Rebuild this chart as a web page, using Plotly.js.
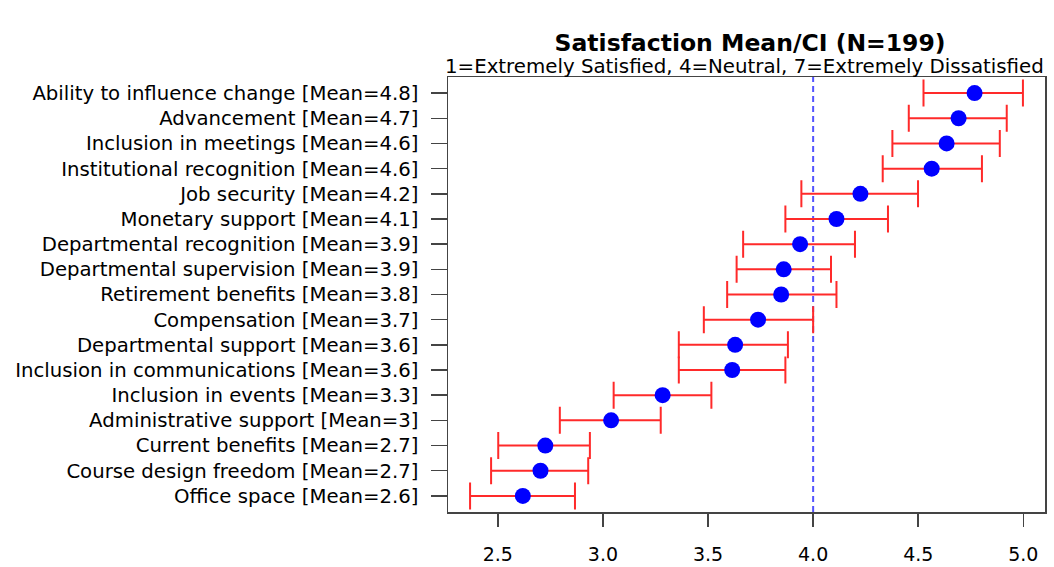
<!DOCTYPE html>
<html>
<head>
<meta charset="utf-8">
<script src="https://cdn.plot.ly/plotly-3.0.1.min.js"></script>
<style>html,body{margin:0;padding:0;background:#fff;}</style>
</head>
<body>
<div id="chart" style="width:1054px;height:567px;"></div>
<script>
// Items, top to bottom
const items = [
  "Ability to influence change", "Advancement", "Inclusion in meetings",
  "Institutional recognition", "Job security", "Monetary support",
  "Departmental recognition", "Departmental supervision", "Retirement benefits",
  "Compensation", "Departmental support", "Inclusion in communications",
  "Inclusion in events", "Administrative support", "Current benefits",
  "Course design freedom", "Office space"
];
const meanLabels = ["4.8","4.7","4.6","4.6","4.2","4.1","3.9","3.9","3.8","3.7","3.6","3.6","3.3","3","2.7","2.7","2.6"];
const means = [4.768, 4.692, 4.635, 4.564, 4.225, 4.111, 3.938, 3.860, 3.848, 3.738, 3.629, 3.615, 3.284, 3.039, 2.726, 2.703, 2.619];
const lowerCI = [4.525, 4.455, 4.377, 4.331, 3.944, 3.868, 3.667, 3.636, 3.591, 3.480, 3.361, 3.361, 3.051, 2.795, 2.502, 2.468, 2.368];
const upperCI = [4.998, 4.921, 4.888, 4.803, 4.499, 4.356, 4.199, 4.085, 4.111, 4.000, 3.880, 3.868, 3.516, 3.275, 2.938, 2.930, 2.867];
const xTicks = [2.5, 3.0, 3.5, 4.0, 4.5, 5.0];
const neutral = 4;
const titleText = "Satisfaction Mean/CI (N=199)";
const subtitleText = "1=Extremely Satisfied, 4=Neutral, 7=Extremely Dissatisfied";

const labels = items.map((s, i) => s + " [Mean=" + meanLabels[i] + "]");
const FONT = "DejaVu Sans";

const trace = {
  type: "scatter",
  mode: "markers",
  x: means,
  y: labels,
  marker: {color: "#0000FF", size: 16, line: {width: 0}},
  error_x: {
    type: "data",
    symmetric: false,
    array: upperCI.map((u, i) => u - means[i]),
    arrayminus: lowerCI.map((l, i) => means[i] - l),
    color: "#FF2A2A",
    thickness: 2,
    width: 13.5
  },
  hoverinfo: "x+y",
  showlegend: false
};

const layout = {
  width: 1054,
  height: 567,
  margin: {l: 448, r: 9, t: 77, b: 55, pad: 0},
  paper_bgcolor: "#ffffff",
  plot_bgcolor: "#ffffff",
  font: {family: FONT, size: 19.7, color: "#000"},
  title: {
    text: "<b>" + titleText + "</b>",
    font: {family: FONT, size: 23.5, color: "#000"},
    x: 0.506, xanchor: "center", xref: "paper",
    y: 1 - 43/567, yanchor: "middle", yref: "container"
  },
  xaxis: {
    range: [2.263, 5.103],
    tickvals: xTicks,
    tickformat: ".1f",
    ticks: "outside",
    ticklen: 13,
    tickwidth: 1.5,
    tickcolor: "#444",
    ticklabelstandoff: 12,
    showgrid: false,
    zeroline: false,
    showline: true,
    mirror: true,
    linecolor: "#444",
    linewidth: 1.5,
    tickfont: {family: FONT, size: 19, color: "#000"},
    automargin: false
  },
  yaxis: {
    type: "category",
    range: [16.64, -0.64],
    ticks: "outside",
    ticklen: 16,
    tickwidth: 1.5,
    tickcolor: "#444",
    ticklabelstandoff: 8,
    showgrid: false,
    zeroline: false,
    showline: true,
    mirror: true,
    linecolor: "#444",
    linewidth: 1.5,
    tickfont: {family: FONT, size: 19.7, color: "#000"},
    automargin: false
  },
  shapes: [{
    type: "line", xref: "x", yref: "paper",
    x0: neutral, x1: neutral, y0: 0, y1: 1,
    line: {color: "rgba(40,40,255,0.8)", width: 2, dash: "6px,4px"},
    layer: "below"
  }],
  annotations: [{
    text: subtitleText,
    xref: "paper", yref: "paper",
    x: 0.497, y: 1, xanchor: "center", yanchor: "bottom",
    yshift: -3,
    showarrow: false,
    font: {family: FONT, size: 19.8, color: "#000"}
  }]
};

Plotly.newPlot("chart", [trace], layout, {displayModeBar: false, staticPlot: true});
</script>
</body>
</html>
